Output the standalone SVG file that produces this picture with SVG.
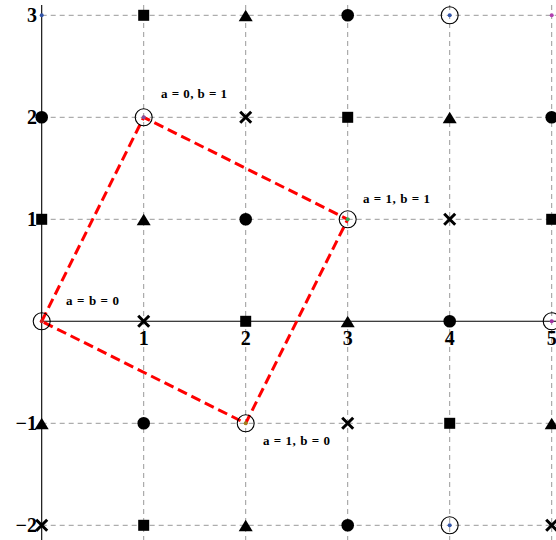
<svg xmlns="http://www.w3.org/2000/svg" xmlns:xlink="http://www.w3.org/1999/xlink" width="556" height="540" viewBox="0 0 556 540">
<style>
.grid{stroke:#999;stroke-width:1;stroke-dasharray:5,4;fill:none}
.axis{stroke:#000;stroke-width:1.1;fill:none}
.tick{font-family:"Liberation Serif",serif;font-weight:bold;font-size:20px;fill:#000}
.lab{font-family:"Liberation Serif",serif;font-weight:bold;font-size:13px;fill:#000}
.edge{stroke:#f00;stroke-width:3;stroke-dasharray:10,5;fill:none}
.ring{fill:none;stroke:#000;stroke-width:1.1}
</style>
<defs>
<rect id="sq" x="-5.5" y="-5.5" width="11" height="11" fill="#000"/>
<circle id="dot" r="6.3" fill="#000"/>
<polygon id="tri" points="0,-5.5 7,6 -7,6" fill="#000"/>
<path id="ex" d="M-5.5,-5.5L5.5,5.5M-5.5,5.5L5.5,-5.5" stroke="#000" stroke-width="3" fill="none"/>
<circle id="ring" r="8.5" class="ring"/>
</defs>
<rect width="556" height="540" fill="#fff"/>
<g id="grid">
<path class="grid" d="M41.7,15.3H556M41.7,117.3H556M41.7,219.3H556M41.7,423.3H556M41.7,525.3H556"/>
<path class="grid" d="M143.7,5V540M245.7,5V540M347.7,5V540M449.7,5V540M551.7,5V540"/>
</g>
<g id="axes">
<path class="axis" d="M41.7,5V540M41.7,321.3H556"/>
<text class="tick" x="143.7" y="345" text-anchor="middle">1</text>
<text class="tick" x="245.7" y="345" text-anchor="middle">2</text>
<text class="tick" x="347.7" y="345" text-anchor="middle">3</text>
<text class="tick" x="449.7" y="345" text-anchor="middle">4</text>
<text class="tick" x="551.7" y="345" text-anchor="middle">5</text>
<text class="tick" x="37" y="22" text-anchor="end">3</text>
<text class="tick" x="37" y="124" text-anchor="end">2</text>
<text class="tick" x="37" y="226" text-anchor="end">1</text>
<text class="tick" x="37" y="430" text-anchor="end">−1</text>
<text class="tick" x="37" y="532" text-anchor="end">−2</text>
</g>
<g id="connectors">
<path class="edge" d="M41.7,321.3L143.7,117.3L347.7,219.3L245.7,423.3Z"/>
</g>
<g id="row3">
<g id="p0_3"><circle cx="41.7" cy="15.3" r="2" fill="#3355aa"/></g>
<g id="p1_3"><use xlink:href="#sq" x="143.7" y="15.3"/></g>
<g id="p2_3"><use xlink:href="#tri" x="245.7" y="15.3"/></g>
<g id="p3_3"><use xlink:href="#dot" x="347.7" y="15.3"/></g>
<g id="p4_3"><use xlink:href="#ring" x="449.7" y="15.3"/><circle cx="449.7" cy="15.3" r="2" fill="#3355aa"/></g>
<g id="p5_3"><circle cx="551.7" cy="15.3" r="2" fill="#b040b0"/></g>
</g>
<g id="row2">
<g id="p0_2"><use xlink:href="#dot" x="41.7" y="117.3"/></g>
<g id="p1_2"><use xlink:href="#ring" x="143.7" y="117.3"/><circle cx="143.7" cy="117.3" r="2" fill="#8050a0"/></g>
<g id="p2_2"><use xlink:href="#ex" x="245.7" y="117.3"/></g>
<g id="p3_2"><use xlink:href="#sq" x="347.7" y="117.3"/></g>
<g id="p4_2"><use xlink:href="#tri" x="449.7" y="117.3"/></g>
<g id="p5_2"><use xlink:href="#dot" x="551.7" y="117.3"/></g>
</g>
<g id="row1">
<g id="p0_1"><use xlink:href="#sq" x="41.7" y="219.3"/></g>
<g id="p1_1"><use xlink:href="#tri" x="143.7" y="219.3"/></g>
<g id="p2_1"><use xlink:href="#dot" x="245.7" y="219.3"/></g>
<g id="p3_1"><use xlink:href="#ring" x="347.7" y="219.3"/><circle cx="347.7" cy="219.3" r="2" fill="#33aa55"/></g>
<g id="p4_1"><use xlink:href="#ex" x="449.7" y="219.3"/></g>
<g id="p5_1"><use xlink:href="#sq" x="551.7" y="219.3"/></g>
</g>
<g id="row0">
<g id="p0_0"><use xlink:href="#ring" x="41.7" y="321.3"/><circle cx="41.7" cy="321.3" r="2" fill="#d02020"/></g>
<g id="p1_0"><use xlink:href="#ex" x="143.7" y="321.3"/></g>
<g id="p2_0"><use xlink:href="#sq" x="245.7" y="321.3"/></g>
<g id="p3_0"><use xlink:href="#tri" x="347.7" y="321.3"/></g>
<g id="p4_0"><use xlink:href="#dot" x="449.7" y="321.3"/></g>
<g id="p5_0"><use xlink:href="#ring" x="551.7" y="321.3"/><circle cx="551.7" cy="321.3" r="2" fill="#a030a0"/></g>
</g>
<g id="rowm1">
<g id="p0_m1"><use xlink:href="#tri" x="41.7" y="423.3"/></g>
<g id="p1_m1"><use xlink:href="#dot" x="143.7" y="423.3"/></g>
<g id="p2_m1"><use xlink:href="#ring" x="245.7" y="423.3"/><circle cx="245.7" cy="423.3" r="2" fill="#a08020"/></g>
<g id="p3_m1"><use xlink:href="#ex" x="347.7" y="423.3"/></g>
<g id="p4_m1"><use xlink:href="#sq" x="449.7" y="423.3"/></g>
<g id="p5_m1"><use xlink:href="#tri" x="551.7" y="423.3"/></g>
</g>
<g id="rowm2">
<g id="p0_m2"><use xlink:href="#ex" x="41.7" y="525.3"/></g>
<g id="p1_m2"><use xlink:href="#sq" x="143.7" y="525.3"/></g>
<g id="p2_m2"><use xlink:href="#tri" x="245.7" y="525.3"/></g>
<g id="p3_m2"><use xlink:href="#dot" x="347.7" y="525.3"/></g>
<g id="p4_m2"><use xlink:href="#ring" x="449.7" y="525.3"/><circle cx="449.7" cy="525.3" r="2" fill="#3355aa"/></g>
<g id="p5_m2"><use xlink:href="#ex" x="551.7" y="525.3"/></g>
</g>
<g id="labels">
<text class="lab" x="66" y="305" textLength="53" lengthAdjust="spacing">a = b = 0</text>
<text class="lab" x="161" y="98" textLength="66" lengthAdjust="spacing">a = 0, b = 1</text>
<text class="lab" x="363" y="203" textLength="67" lengthAdjust="spacing">a = 1, b = 1</text>
<text class="lab" x="263" y="445" textLength="67" lengthAdjust="spacing">a = 1, b = 0</text>
</g>
</svg>
